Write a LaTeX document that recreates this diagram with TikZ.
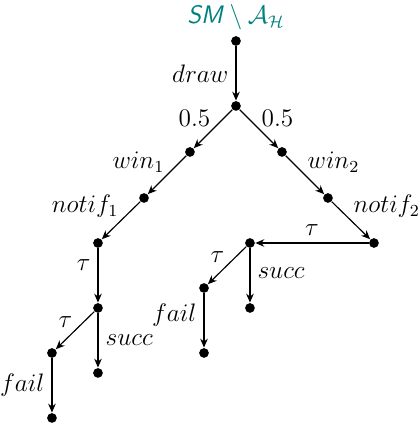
\documentclass[tikz,border=0pt]{standalone}
\usetikzlibrary{arrows.meta,positioning}

\begin{document}
\begin{tikzpicture}[>={Stealth[length=4.2pt,width=3.6pt]},font=\large,line width=.55pt,
  vtx/.style={circle,fill=black,inner sep=0pt,minimum size=4.6pt}]
\useasboundingbox (-3.933,-6.367) rectangle (3.033,0.683);
\node[text=teal] (title) at (0,0.4) {\textsf{\itshape SM}${}\setminus\mathcal{A}_{\mathcal{H}}$};
\node[vtx] (root) at (0,0) {};
\node[vtx] (n1) at (0,-1.083) {};
\node[vtx] (w1) at (-0.767,-1.85) {};
\node[vtx] (w2) at (0.767,-1.85) {};
\node[vtx] (nf1) at (-1.533,-2.617) {};
\node[vtx] (nf2) at (1.533,-2.617) {};
\node[vtx] (t1) at (-2.3,-3.367) {};
\node[vtx] (t2) at (2.3,-3.367) {};
% left branch
\node[vtx] (a1) at (-2.3,-4.45) {};
\node[vtx] (c1) at (-3.067,-5.2) {};
\node[vtx] (s1) at (-2.3,-5.533) {};
\node[vtx] (f1) at (-3.067,-6.283) {};
% right branch
\node[vtx] (a2) at (0.233,-3.367) {};
\node[vtx] (c2) at (-0.533,-4.117) {};
\node[vtx] (s2) at (0.233,-4.45) {};
\node[vtx] (f2) at (-0.533,-5.2) {};
\draw[->] (root) to node[left] {$draw$} (n1);
\draw[->] (n1) to node[above left,inner sep=1pt] {$0.5$} (w1);
\draw[->] (n1) to node[above right,inner sep=1pt] {$0.5$} (w2);
\draw[->] (w1) to node[above left,inner sep=1pt] {$win_1$} (nf1);
\draw[->] (w2) to node[above right,inner sep=1pt] {$win_2$} (nf2);
\draw[->] (nf1) to node[above left,inner sep=1pt] {$notif_1$} (t1);
\draw[->] (nf2) to node[above right,inner sep=1pt] {$notif_2$} (t2);
\draw[->] (t1) to node[left,pos=.3] {$\tau$} (a1);
\draw[->] (a1) to node[above left,inner sep=1pt] {$\tau$} (c1);
\draw[->] (a1) to node[right] {$succ$} (s1);
\draw[->] (c1) to node[left] {$fail$} (f1);
\draw[->] (t2) to node[above] {$\tau$} (a2);
\draw[->] (a2) to node[above left,inner sep=1pt] {$\tau$} (c2);
\draw[->] (a2) to node[right,pos=.45] {$succ$} (s2);
\draw[->] (c2) to node[left,pos=.4] {$fail$} (f2);
\end{tikzpicture}
\end{document}
